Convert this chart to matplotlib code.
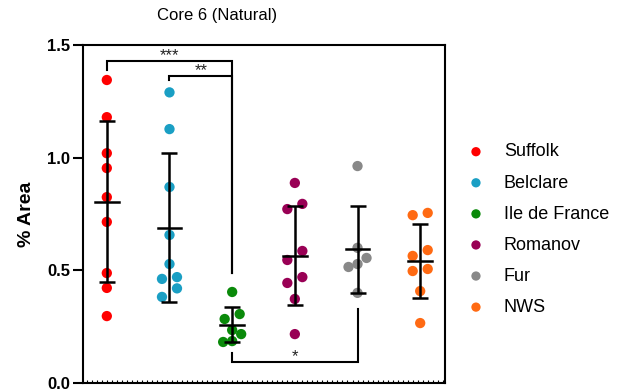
import numpy as np
import matplotlib.pyplot as plt
from matplotlib.ticker import MultipleLocator

plt.rcParams['font.family'] = ['Liberation Sans', 'DejaVu Sans']

groups = ['Suffolk', 'Belclare', 'Ile de France', 'Romanov', 'Fur', 'NWS']
colors = ['#ff0000', '#1a9fc4', '#0a8a0a', '#990055', '#888888', '#ff6a13']

suffolk = [1.345, 1.18, 1.02, 0.954, 0.825, 0.715, 0.488, 0.422, 0.297]
belclare = [1.29, 1.127, 0.87, 0.657, 0.528, 0.462, 0.47, 0.42, 0.382]
ile_de_france = [0.404, 0.306, 0.284, 0.235, 0.217, 0.182, 0.186]
romanov = [0.888, 0.795, 0.772, 0.586, 0.546, 0.47, 0.444, 0.373, 0.217]
fur = [0.963, 0.6, 0.555, 0.528, 0.515, 0.4]
nws = [0.755, 0.745, 0.59, 0.564, 0.506, 0.497, 0.408, 0.266]
values = [suffolk, belclare, ile_de_france, romanov, fur, nws]

# significance brackets: (x1, x2, y of bar, end of leg 1, end of leg 2, label)
brackets = [(0, 2, 1.429, 1.39, 0.49, '***'),
            (1, 2, 1.363, 1.345, 0.49, '**'),
            (2, 4, 0.093, 0.133, 0.328, '*')]

fig = plt.figure(figsize=(6.37, 3.92), dpi=100)
ax = fig.add_axes([0.130, 0.023, 0.569, 0.862])
ax.set_xlim(-0.383, 5.4)
ax.set_ylim(0, 1.5)

# px per data unit, used to lay out overlapping dots side by side
px_x = 62.6
px_y = 225.3


def swarm(vals):
    # group points that would overlap into rows, then centre each row
    order = np.argsort(vals)
    offs = np.zeros(len(vals))
    rows = []
    for i in order:
        if rows and (vals[i] - vals[rows[-1][0]]) * px_y < 9.5:
            rows[-1].append(i)
        else:
            rows.append([i])
    for row in rows:
        n = len(row)
        step = 15.0 if n == 2 else 9.0
        for j, i in enumerate(row):
            offs[i] = (j - (n - 1) / 2) * step / px_x
    return offs


for i, (name, vals, c) in enumerate(zip(groups, values, colors)):
    vals = np.asarray(vals)
    xs = i + swarm(vals)
    ax.scatter(xs, vals, s=55, color=c, edgecolor='none', zorder=2, label=name)
    m = vals.mean()
    sd = vals.std(ddof=1)
    ax.plot([i - 0.19, i + 0.19], [m, m], color='black', lw=1.8, zorder=3)
    ax.errorbar(i, m, yerr=sd, fmt='none', ecolor='black', elinewidth=1.8,
                capsize=5.5, capthick=1.8, zorder=3)

for x1, x2, y, e1, e2, lab in brackets:
    ax.plot([x1, x1, x2, x2], [e1, y, y, e2], color='black', lw=1.5,
            solid_joinstyle='miter', zorder=3)
    ax.text((x1 + x2) / 2, y + 0.004, lab, ha='center', va='baseline',
            fontsize=12, color='#222222')

ax.set_title('Core 6 (Natural)', fontsize=12, x=0.37, pad=18)
ax.set_ylabel('% Area', fontsize=14, fontweight='bold', labelpad=9)
ax.set_yticks([0, 0.5, 1.0, 1.5])
ax.set_yticklabels(['0.0', '0.5', '1.0', '1.5'], fontsize=12, fontweight='bold')
ax.tick_params(axis='y', direction='out', length=7, width=1.5, pad=2)
ax.xaxis.set_major_locator(MultipleLocator(0.08))
ax.set_xticklabels([])
ax.tick_params(axis='x', direction='in', length=2, width=0.8)
for s in ax.spines.values():
    s.set_linewidth(1.5)

ax.legend(loc='upper left', bbox_to_anchor=(1.01, 0.757), frameon=False,
          fontsize=13, handletextpad=0.95, labelspacing=0.78,
          markerscale=0.9, handlelength=1.2)

fig.savefig('out.png', dpi=100)
